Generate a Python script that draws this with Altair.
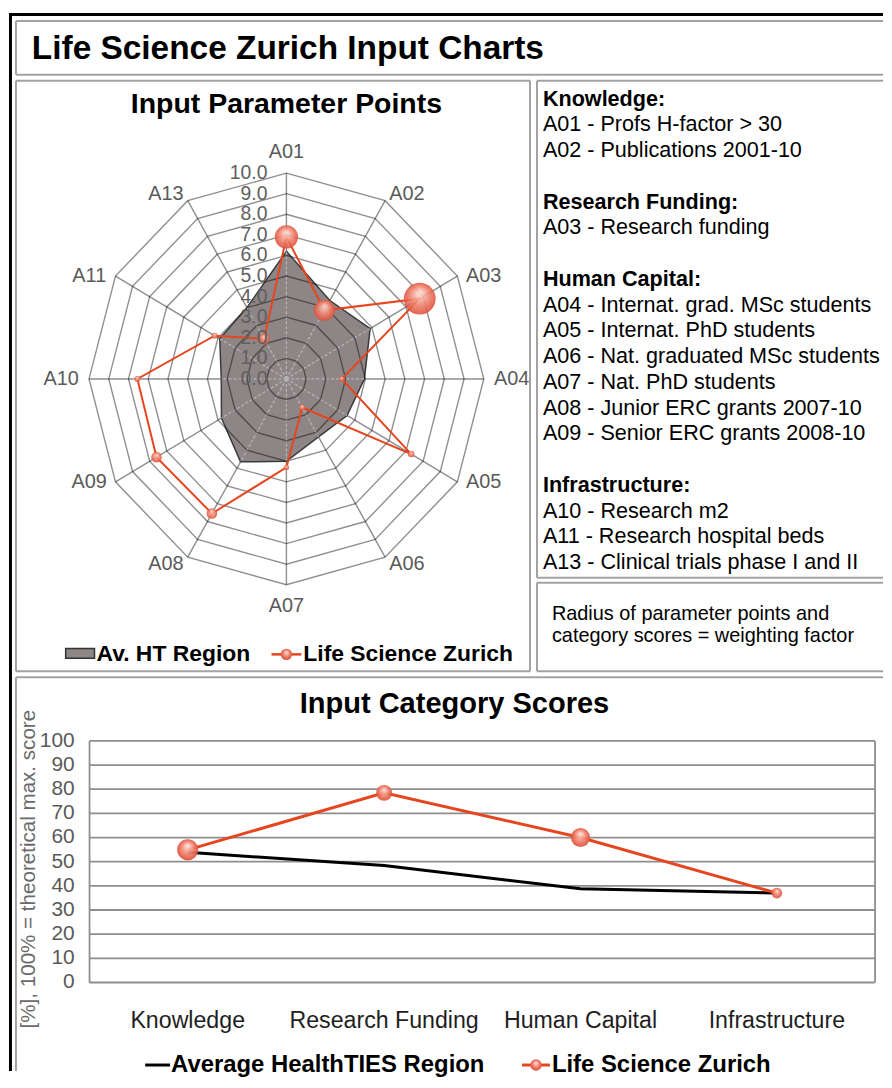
import altair as alt
import pandas as pd

# ---------------- data ----------------
main_title = "Life Science Zurich Input Charts"
radar_title = "Input Parameter Points"
scores_title = "Input Category Scores"

param_codes = ["A01", "A02", "A03", "A04", "A05", "A06",
               "A07", "A08", "A09", "A10", "A11", "A13"]
avg_region_points = [6.2, 4.4, 4.9, 3.95, 3.55, 3.25, 4.0, 4.65, 3.8, 3.3, 3.9, 4.0]
lsz_points = [6.9, 3.85, 7.8, 2.8, 7.3, 1.6, 4.3, 7.55, 7.6, 7.55, 4.2, 2.25]
lsz_point_weights = [4.4, 4.0, 6.0, 1.0, 1.25, 1.15, 1.0, 2.0, 2.0, 1.1, 1.15, 2.1]
ring_levels = [0, 1, 2, 3, 4, 5, 6, 7, 8, 9, 10]

categories = ["Knowledge", "Research Funding", "Human Capital", "Infrastructure"]
avg_region_scores = [53.9, 48.4, 38.8, 37.0]
lsz_scores = [54.9, 78.5, 60.0, 37.0]
lsz_score_weights = [4.0, 3.0, 3.6, 2.0]
score_ticks = [0, 10, 20, 30, 40, 50, 60, 70, 80, 90, 100]

radar_series = ["Av. HT Region", "Life Science Zurich"]
score_series = ["Average HealthTIES Region", "Life Science Zurich"]
y_axis_title = "[%], 100% = theoretical max. score"

key_lines = ["Knowledge:", "A01 - Profs H-factor > 30", "A02 - Publications 2001-10", "",
             "Research Funding:", "A03 - Research funding", "",
             "Human Capital:", "A04 - Internat. grad. MSc students",
             "A05 - Internat. PhD students", "A06 - Nat. graduated MSc students",
             "A07 - Nat. PhD students", "A08 - Junior ERC grants 2007-10",
             "A09 - Senior ERC grants 2008-10", "",
             "Infrastructure:", "A10 - Research m2", "A11 - Research hospital beds",
             "A13 - Clinical trials phase I and II"]
note_lines = ["Radius of parameter points and", "category scores = weighting factor"]

# ---------------- style ----------------
FONT = "Liberation Sans"
ORANGE = "#e5461f"
GRID = "#8e8e8e"
BORDER = "#a2a2a2"
LABEL = "#5a5a5a"
POLY = "#8e8586"

bubble = alt.RadialGradient(
    gradient="radial",
    stops=[alt.GradientStop(offset=0, color="#fde6df"),
           alt.GradientStop(offset=0.55, color="#f0806c"),
           alt.GradientStop(offset=1, color="#d9452e")],
    x1=0.5, y1=0.3, r1=0.0, x2=0.5, y2=0.5, r2=0.55)

size_scale = alt.Scale(type="pow", exponent=2, domain=[0, 6], range=[0, 1018])
one = pd.DataFrame({"k": [0]})


def borders(w, h, sides, top=0):
    out = []
    base = alt.Chart(one).mark_rule(color=BORDER, strokeWidth=2)
    if "top" in sides:
        out.append(base.encode(x=alt.value(0), x2=alt.value(w), y=alt.value(top)))
    if "bottom" in sides:
        out.append(base.encode(x=alt.value(0), x2=alt.value(w), y=alt.value(h)))
    if "left" in sides:
        out.append(base.encode(x=alt.value(0), y=alt.value(top), y2=alt.value(h)))
    if "right" in sides:
        out.append(base.encode(x=alt.value(w), y=alt.value(top), y2=alt.value(h)))
    return out


def txt(text, x, y, size, bold=False, align="left", color="black"):
    return alt.Chart(one).mark_text(
        text=text, font=FONT, fontSize=size, fontWeight="bold" if bold else "normal",
        align=align, baseline="middle", color=color).encode(x=alt.value(x), y=alt.value(y))


MAIN_W = 872

# ---------------- black frame ----------------
top_bar = alt.Chart(one).mark_rect(color="black").encode(
    x=alt.value(0), x2=alt.value(MAIN_W + 7), y=alt.value(0), y2=alt.value(3)
).properties(width=MAIN_W + 7, height=3)

# ---------------- title panel ----------------
TH = 59
title_panel = alt.layer(
    *borders(MAIN_W, TH, ["top", "bottom", "left"], top=5),
    txt(main_title, 16, 33, 33.6, bold=True),
).properties(width=MAIN_W, height=TH)

# ---------------- radar panel ----------------
RW, RH = 517, 594
CX, CY = 272, 300
KX, KY = 19.85, 20.7
RMAX = max(ring_levels)
xs = alt.Scale(domain=[-CX / KX, (RW - CX) / KX], nice=False, zero=False)
ys = alt.Scale(domain=[-(RH - CY) / KY, CY / KY], nice=False, zero=False)


def RX(f):
    return alt.X(f, type="quantitative", scale=xs, axis=None)


def RY(f):
    return alt.Y(f, type="quantitative", scale=ys, axis=None)


param_df = pd.DataFrame({"code": param_codes, "idx": list(range(len(param_codes))),
                         "avg": avg_region_points, "lsz": lsz_points,
                         "w": lsz_point_weights})
ang = f"datum.idx*2*PI/{len(param_codes)}"
ring_df = pd.DataFrame([{"level": l, "idx": i} for l in ring_levels[1:]
                        for i in range(len(param_codes))])

spokes = alt.Chart(param_df).transform_calculate(
    zero="0", ex=f"{RMAX}*sin({ang})", ey=f"{RMAX}*cos({ang})"
).mark_rule(color=GRID, strokeWidth=1.4).encode(
    x=RX("zero"), y=RY("zero"), x2="ex:Q", y2="ey:Q")

avg_poly = alt.Chart(param_df).transform_calculate(
    px=f"datum.avg*sin({ang})", py=f"datum.avg*cos({ang})"
).mark_line(interpolate="linear-closed", fill=POLY, stroke="#3a3a3a",
            strokeWidth=1.5).encode(x=RX("px"), y=RY("py"), order="idx:Q")

inner_spokes = alt.Chart(param_df).transform_calculate(
    zero="0", ex=f"datum.avg*sin({ang})", ey=f"datum.avg*cos({ang})"
).mark_rule(color="#b4b4b4", strokeWidth=1.3, strokeDash=[3, 2]).encode(
    x=RX("zero"), y=RY("zero"), x2="ex:Q", y2="ey:Q")

rings = alt.Chart(ring_df).transform_calculate(
    px=f"datum.level*sin({ang})", py=f"datum.level*cos({ang})"
).mark_line(interpolate="linear-closed", stroke="black", strokeOpacity=0.44,
            strokeWidth=1.4).encode(x=RX("px"), y=RY("py"), detail="level:N", order="idx:Q")

lsz_line = alt.Chart(param_df).transform_calculate(
    px=f"datum.lsz*sin({ang})", py=f"datum.lsz*cos({ang})"
).mark_line(interpolate="linear-closed", color=ORANGE, strokeWidth=2).encode(
    x=RX("px"), y=RY("py"), order="idx:Q")

lsz_pts = alt.Chart(param_df).transform_calculate(
    px=f"datum.lsz*sin({ang})", py=f"datum.lsz*cos({ang})"
).mark_circle(fill=bubble, fillOpacity=0.88, opacity=1).encode(
    x=RX("px"), y=RY("py"),
    size=alt.Size("w:Q", scale=size_scale, legend=None))

ring_lbls = alt.Chart(pd.DataFrame({"level": ring_levels})).mark_text(
    align="right", baseline="middle", font=FONT, fontSize=19.5, color="#606060"
).encode(x=alt.value(253), y=RY("level"), text=alt.Text("level:Q", format=".1f"))

axis_lbls = alt.Chart(param_df).transform_calculate(
    s=f"sin({ang})", c=f"cos({ang})"
).transform_calculate(
    lx=f"(datum.s*{RMAX}*{KX} + (abs(datum.s) > 0.01 ? (datum.s > 0 ? 1 : -1)*(16 + 12*abs(datum.s)) : 0))/{KX}",
    ly=f"(datum.c*{RMAX}*{KY} + datum.c*pow(abs(datum.c), 7)*21)/{KY}"
).mark_text(font=FONT, fontSize=20, color=LABEL, align="center", baseline="middle").encode(
    x=RX("lx"), y=RY("ly"), text="code:N")

radar_legend = [
    alt.Chart(one).mark_rect(fill=POLY, stroke="#333333", strokeWidth=1.5).encode(
        x=alt.value(50), x2=alt.value(79), y=alt.value(571), y2=alt.value(581)),
    txt(radar_series[0], 81, 577, 23, bold=True),
    alt.Chart(one).mark_rule(color=ORANGE, strokeWidth=2.5).encode(
        x=alt.value(257), x2=alt.value(287), y=alt.value(577)),
    alt.Chart(one).mark_circle(fill=bubble, size=130, opacity=1).encode(
        x=alt.value(272), y=alt.value(577)),
    txt(radar_series[1], 289, 577, 23, bold=True),
]

radar_panel = alt.layer(
    spokes, avg_poly, inner_spokes, rings, lsz_line, lsz_pts, ring_lbls, axis_lbls,
    txt(radar_title, 272, 24, 28.6, bold=True, align="center"),
    *radar_legend,
    *borders(RW, RH, ["top", "bottom", "left", "right"]),
).properties(width=RW, height=RH)

# ---------------- key panel ----------------
KW = 348
KH = 500
key_df = pd.DataFrame({"row": list(range(len(key_lines))), "text": key_lines,
                       "header": [t.endswith(":") for t in key_lines]})
key_df = key_df[key_df["text"] != ""]
ROW = 25.9
kys = alt.Scale(domain=[-18 / ROW, (KH - 18) / ROW], reverse=True, nice=False, zero=False)
key_base = alt.Chart(key_df).encode(
    x=alt.value(6), y=alt.Y("row:Q", scale=kys, axis=None), text="text:N")
key_panel = alt.layer(
    key_base.transform_filter("datum.header").mark_text(
        font=FONT, fontSize=21.7, fontWeight="bold", align="left", baseline="middle", color="black"),
    key_base.transform_filter("!datum.header").mark_text(
        font=FONT, fontSize=21.7, align="left", baseline="middle", color="black"),
    *borders(KW, KH, ["top", "bottom", "left"]),
).properties(width=KW, height=KH)

# ---------------- note panel ----------------
NH = 89
note_df = pd.DataFrame({"row": list(range(len(note_lines))), "text": note_lines})
nys = alt.Scale(domain=[-31 / 23, (NH - 31) / 23], reverse=True, nice=False, zero=False)
note_panel = alt.layer(
    alt.Chart(note_df).mark_text(font=FONT, fontSize=20, align="left", baseline="middle",
                                 color="black").encode(
        x=alt.value(15), y=alt.Y("row:Q", scale=nys, axis=None), text="text:N"),
    *borders(KW, NH, ["top", "bottom", "left"]),
).properties(width=KW, height=NH)

# ---------------- category score panel ----------------
BH = 396
PX0, BAND = 74, 197.5
Y0, KV = 307, 2.43
bxs = alt.Scale(domain=[-0.5 - PX0 / BAND, -0.5 + (MAIN_W - PX0) / BAND], nice=False, zero=False)
bys = alt.Scale(domain=[-(BH - Y0) / KV, Y0 / KV], nice=False, zero=False)


def BX(f):
    return alt.X(f, type="quantitative", scale=bxs, axis=None)


def BY(f):
    return alt.Y(f, type="quantitative", scale=bys, axis=None)


score_df = pd.DataFrame({"cat": categories, "idx": list(range(len(categories))),
                         "avg": avg_region_scores, "lsz": lsz_scores, "w": lsz_score_weights})
tick_df = pd.DataFrame({"tick": score_ticks})
edge_expr_l = "-0.5"
edge_expr_r = f"{len(categories) - 0.5}"

gridlines = alt.Chart(tick_df).transform_calculate(
    a=edge_expr_l, b=edge_expr_r
).mark_rule(color=GRID, strokeWidth=1.8).encode(x=BX("a"), x2="b:Q", y=BY("tick"))

frame_v = alt.Chart(pd.DataFrame({"edge": [-0.5, len(categories) - 0.5]})).transform_calculate(
    lo=f"{min(score_ticks)}", hi=f"{max(score_ticks)}"
).mark_rule(color=GRID, strokeWidth=1.8).encode(x=BX("edge"), y=BY("lo"), y2="hi:Q")

tick_lbls = alt.Chart(tick_df).mark_text(
    font=FONT, fontSize=21, color=LABEL, align="right", baseline="middle"
).encode(x=alt.value(59), y=BY("tick"), text="tick:Q")

cat_lbls = alt.Chart(score_df).mark_text(
    font=FONT, fontSize=23.3, color="#1e1e1e", align="center", baseline="middle"
).encode(x=BX("idx"), y=alt.value(346), text="cat:N")

avg_line = alt.Chart(score_df).mark_line(color="black", strokeWidth=3).encode(
    x=BX("idx"), y=BY("avg"), order="idx:Q")
lsz_sline = alt.Chart(score_df).mark_line(color=ORANGE, strokeWidth=3).encode(
    x=BX("idx"), y=BY("lsz"), order="idx:Q")
lsz_spts = alt.Chart(score_df).mark_circle(fill=bubble, fillOpacity=0.92, opacity=1).encode(
    x=BX("idx"), y=BY("lsz"), size=alt.Size("w:Q", scale=size_scale, legend=None))

ytitle = alt.Chart(one).mark_text(
    text=y_axis_title, font=FONT, fontSize=20.7, color="#6a6a6a", angle=270,
    align="center", baseline="middle").encode(x=alt.value(13), y=alt.value(193))

LEG_Y = 390
score_legend = [
    alt.Chart(one).mark_rule(color="black", strokeWidth=3).encode(
        x=alt.value(130), x2=alt.value(155), y=alt.value(LEG_Y)),
    txt(score_series[0], 156, LEG_Y, 24, bold=True),
    alt.Chart(one).mark_rule(color=ORANGE, strokeWidth=3).encode(
        x=alt.value(509), x2=alt.value(537), y=alt.value(LEG_Y)),
    alt.Chart(one).mark_circle(fill=bubble, size=130, opacity=1).encode(
        x=alt.value(523), y=alt.value(LEG_Y)),
    txt(score_series[1], 539, LEG_Y, 24, bold=True),
]

score_panel = alt.layer(
    gridlines, frame_v, tick_lbls, cat_lbls, avg_line, lsz_sline, lsz_spts, ytitle,
    txt(scores_title, 441, 27, 29.2, bold=True, align="center"),
    *score_legend,
    *borders(MAIN_W, BH, ["top", "left"]),
).properties(width=MAIN_W, height=BH)

# ---------------- layout ----------------
right_col = alt.vconcat(key_panel, note_panel, spacing=3)
mid = alt.hconcat(radar_panel, right_col, spacing=5)
main = alt.vconcat(title_panel, mid, score_panel, spacing=4)
left_bar = alt.Chart(one).mark_rect(color="black").encode(
    x=alt.value(0), x2=alt.value(3), y=alt.value(0), y2=alt.value(1061)
).properties(width=3, height=1061)

chart = alt.vconcat(
    top_bar,
    alt.hconcat(left_bar, main, spacing=3),
    spacing=0,
).configure_view(strokeWidth=0, stroke="transparent").properties(
    padding={"left": 1, "top": 2, "right": 0, "bottom": 0}, background="white")

chart.save("out.html", embed_options={"renderer": "svg", "actions": False})
